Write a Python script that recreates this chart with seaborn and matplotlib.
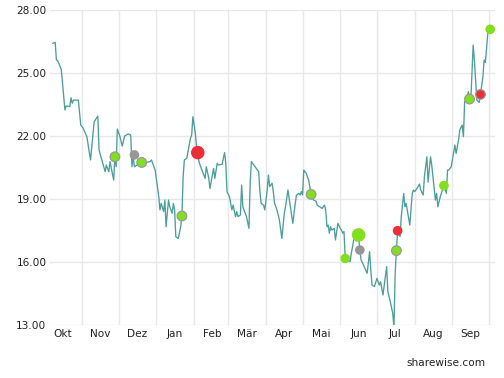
import pandas as pd
import matplotlib.pyplot as plt
import matplotlib.dates as mdates
import seaborn as sns

# share price (date, close)
price_dates = [
    "2018-10-08", "2018-10-10", "2018-10-11", "2018-10-12", "2018-10-13", "2018-10-15",
    "2018-10-18", "2018-10-19", "2018-10-22", "2018-10-23", "2018-10-24", "2018-10-25",
    "2018-10-29", "2018-10-31", "2018-11-02", "2018-11-05", "2018-11-08", "2018-11-11",
    "2018-11-14", "2018-11-15", "2018-11-20", "2018-11-21", "2018-11-23", "2018-11-24",
    "2018-11-27", "2018-11-28", "2018-11-29", "2018-11-30", "2018-12-02", "2018-12-04",
    "2018-12-06", "2018-12-09", "2018-12-11", "2018-12-12", "2018-12-13", "2018-12-14",
    "2018-12-20", "2018-12-23", "2018-12-27", "2018-12-28", "2018-12-31",
    "2019-01-01", "2019-01-03", "2019-01-04", "2019-01-05", "2019-01-07", "2019-01-08",
    "2019-01-09", "2019-01-11", "2019-01-12", "2019-01-14", "2019-01-15", "2019-01-16",
    "2019-01-17", "2019-01-19", "2019-01-21", "2019-01-22", "2019-01-23", "2019-01-24",
    "2019-01-26", "2019-01-27", "2019-01-29", "2019-01-30", "2019-01-31",
    "2019-02-02", "2019-02-03", "2019-02-04", "2019-02-05", "2019-02-06", "2019-02-08",
    "2019-02-09", "2019-02-10", "2019-02-11", "2019-02-13", "2019-02-14", "2019-02-17",
    "2019-02-18", "2019-02-20", "2019-02-21", "2019-02-24", "2019-02-26", "2019-02-27",
    "2019-02-28", "2019-03-02", "2019-03-04", "2019-03-05", "2019-03-07", "2019-03-08",
    "2019-03-09", "2019-03-11", "2019-03-12", "2019-03-13", "2019-03-15", "2019-03-16",
    "2019-03-18", "2019-03-19", "2019-03-20", "2019-03-23", "2019-03-26", "2019-03-27",
    "2019-03-28", "2019-03-30", "2019-03-31", "2019-04-02", "2019-04-03", "2019-04-04",
    "2019-04-06", "2019-04-07", "2019-04-08", "2019-04-10", "2019-04-12", "2019-04-14",
    "2019-04-16", "2019-04-17", "2019-04-19", "2019-04-21", "2019-04-23", "2019-04-25",
    "2019-04-26", "2019-04-28", "2019-04-29", "2019-04-30", "2019-05-01", "2019-05-02",
    "2019-05-04", "2019-05-06", "2019-05-08", "2019-05-10", "2019-05-12", "2019-05-13",
    "2019-05-15", "2019-05-17", "2019-05-19", "2019-05-20", "2019-05-21", "2019-05-22",
    "2019-05-23", "2019-05-24", "2019-05-25", "2019-05-27", "2019-05-28", "2019-05-30",
    "2019-06-01", "2019-06-02", "2019-06-03", "2019-06-04", "2019-06-05", "2019-06-06",
    "2019-06-09", "2019-06-10", "2019-06-12", "2019-06-13", "2019-06-14", "2019-06-16",
    "2019-06-17", "2019-06-18", "2019-06-20", "2019-06-23", "2019-06-25", "2019-06-26",
    "2019-06-27", "2019-06-29", "2019-07-01", "2019-07-03", "2019-07-04", "2019-07-06",
    "2019-07-09", "2019-07-10", "2019-07-12", "2019-07-14", "2019-07-15", "2019-07-16",
    "2019-07-17", "2019-07-18", "2019-07-19", "2019-07-20", "2019-07-21", "2019-07-23",
    "2019-07-24", "2019-07-25", "2019-07-28", "2019-07-30", "2019-07-31", "2019-08-01",
    "2019-08-03", "2019-08-05", "2019-08-06", "2019-08-08", "2019-08-09", "2019-08-11",
    "2019-08-12", "2019-08-14", "2019-08-15", "2019-08-16", "2019-08-18", "2019-08-19",
    "2019-08-20", "2019-08-22", "2019-08-25", "2019-08-27", "2019-08-28", "2019-08-29",
    "2019-08-31", "2019-09-03", "2019-09-04", "2019-09-06", "2019-09-07", "2019-09-09",
    "2019-09-10", "2019-09-11", "2019-09-13", "2019-09-14", "2019-09-15", "2019-09-16",
    "2019-09-18", "2019-09-19", "2019-09-21", "2019-09-23", "2019-09-24", "2019-09-26",
    "2019-09-27", "2019-09-28", "2019-09-29", "2019-09-30", "2019-10-02",
]
price_values = [
    26.41, 26.46, 25.62, 25.59, 25.46, 25.17,
    23.24, 23.43, 23.40, 23.82, 23.56, 23.71,
    23.71, 22.52, 22.37, 21.97, 20.86, 22.68,
    22.95, 21.33, 20.30, 20.62, 20.30, 20.78,
    19.90, 21.01, 20.54, 22.33, 22.00, 21.52,
    22.00, 22.10, 22.05, 20.54, 21.05, 20.54,
    20.74, 20.74, 20.78, 20.86, 20.38,
    19.98, 19.11, 18.48, 18.79, 18.40, 18.95,
    17.68, 18.95, 18.63, 18.32, 18.79, 18.48,
    17.20, 17.12, 17.68, 18.19, 20.07, 20.86,
    20.94, 21.25, 21.89, 22.05, 22.92,
    22.13, 21.49, 21.21, 20.78, 20.60, 20.30,
    20.14, 19.98, 20.54, 20.00, 19.50, 20.46,
    19.98, 20.70, 20.62, 20.65, 21.21, 20.70,
    19.35, 19.11, 18.48, 18.71, 18.16, 18.40,
    18.16, 18.24, 19.67, 18.63, 18.32, 18.16,
    17.60, 19.75, 20.78, 20.54, 20.30, 19.35,
    18.79, 18.71, 18.48, 19.43, 20.14, 19.59,
    19.75, 19.35, 18.80, 18.48, 18.00, 17.12,
    18.32, 18.63, 19.43, 18.63, 17.84, 18.79,
    19.19, 19.27, 19.19, 19.35, 19.19, 20.38,
    20.22, 19.90, 19.22, 18.95, 18.90, 18.71,
    18.63, 18.55, 18.71, 18.48, 17.68, 17.76,
    17.37, 17.68, 17.52, 17.60, 17.05, 17.84,
    17.60, 17.52, 17.37, 17.45, 16.17, 16.10,
    16.02, 16.41, 17.05, 17.12, 17.00, 17.20,
    16.57, 16.10, 15.86, 15.46, 16.49, 15.62,
    14.90, 14.83, 15.22, 14.90, 15.06, 14.43,
    15.78, 14.59, 14.11, 13.56, 12.90, 15.46,
    16.54, 17.49, 17.30, 17.21, 18.16, 19.27,
    18.63, 18.79, 17.76, 19.27, 19.43, 19.35,
    19.51, 19.71, 19.43, 19.19, 20.07, 21.01,
    19.80, 21.01, 20.62, 20.07, 18.95, 19.27,
    18.63, 19.11, 19.64, 19.27, 20.38, 20.38,
    20.54, 21.57, 21.17, 21.81, 22.29, 22.52,
    21.97, 23.63, 23.79, 24.11, 23.76, 23.60,
    26.33, 25.62, 23.71, 23.60, 23.98, 24.82,
    25.62, 25.50, 26.17, 26.89, 27.08,
]

# analyst signals shown as dots
signal_dates = [
    "2018-11-28", "2018-12-14", "2018-12-20", "2019-01-22", "2019-02-04",
    "2019-05-08", "2019-06-05", "2019-06-16", "2019-06-17", "2019-07-17",
    "2019-07-18", "2019-08-25", "2019-09-15", "2019-09-24", "2019-10-02",
]
signal_values = [
    21.01, 21.10, 20.74, 18.19, 21.21,
    19.22, 16.17, 17.29, 16.57, 16.54,
    17.49, 19.64, 23.76, 23.98, 27.08,
]
signal_kind = [
    "buy", "hold", "buy", "buy", "sell",
    "buy", "buy", "buy", "hold", "buy",
    "sell", "buy", "buy", "sell", "buy",
]
signal_weight = [
    "small", "small", "small", "small", "large",
    "small", "small", "large", "small", "small",
    "small", "small", "small", "small", "small",
]
signal_edge = [
    True, False, True, True, False,
    True, False, False, False, True,
    False, False, True, True, False,
]

month_labels = ["Okt", "Nov", "Dez", "Jan", "Feb", "Mär",
                "Apr", "Mai", "Jun", "Jul", "Aug", "Sep"]
y_ticks = [13, 16, 19, 22, 25, 28]

prices = pd.DataFrame({"date": pd.to_datetime(price_dates), "price": price_values})
signals = pd.DataFrame({
    "date": pd.to_datetime(signal_dates),
    "price": signal_values,
    "kind": signal_kind,
    "weight": signal_weight,
})

sns.set_style("white")
plt.rcParams["font.family"] = ["DejaVu Sans"]

fig = plt.figure(figsize=(5.04, 3.78), dpi=100)
ax = fig.add_axes([50 / 504, 1 - 325 / 378, 445 / 504, 315 / 378])

grid_color = "#e8e8e8"
ax.set_axisbelow(True)

sns.lineplot(data=prices, x="date", y="price", ax=ax, color="#4b9e9b",
             linewidth=0.95, zorder=2)

edge_colors = ["#999999" if e else "none" for e in signal_edge]
sns.scatterplot(data=signals, x="date", y="price", hue="kind", size="weight",
                palette={"buy": "#82df1e", "hold": "#979797", "sell": "#ec2f37"},
                sizes={"small": 48, "large": 95},
                edgecolor=edge_colors, linewidth=0.9, legend=False, ax=ax, zorder=3)

ax.set_ylim(13, 28)
ax.set_xlim(pd.Timestamp("2018-10-05 18:00"), pd.Timestamp("2019-10-05 22:00"))
ax.set_yticks(y_ticks)
ax.set_yticklabels([f"{v:.2f}" for v in y_ticks])

# gridlines on month boundaries, labels mid-month
ax.xaxis.set_major_locator(mdates.MonthLocator())
ax.xaxis.set_major_formatter(plt.NullFormatter())
ax.xaxis.set_minor_locator(mdates.MonthLocator(bymonthday=16))
ax.xaxis.set_minor_formatter(
    plt.FuncFormatter(lambda v, p: month_labels[(mdates.num2date(v).month - 10) % 12]))

ax.grid(True, which="major", color=grid_color, linewidth=1.0)
ax.tick_params(axis="x", which="major", length=3, color=grid_color, width=1.0)
ax.tick_params(axis="x", which="minor", length=0, pad=3, labelsize=7.6,
               labelcolor="#222222")
ax.tick_params(axis="y", length=0, pad=2.5, labelsize=7.6, labelcolor="#222222")

for s in ax.spines.values():
    s.set_visible(False)
ax.set_xlabel("")
ax.set_ylabel("")

fig.text(486 / 504, 1 - 363 / 378, "sharewise.com", ha="right", va="center",
         fontsize=7.6, color="#222222")

fig.savefig("out.png", dpi=100)
plt.close(fig)
